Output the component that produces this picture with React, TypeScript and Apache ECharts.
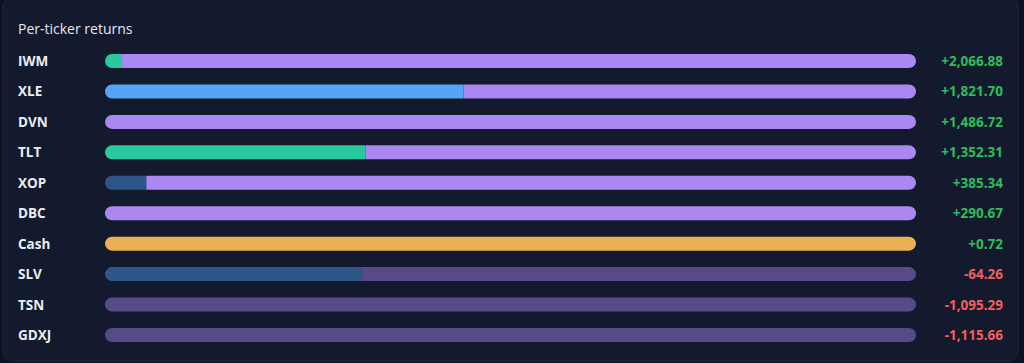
import React, { useEffect, useRef } from "react";
import * as echarts from "echarts";

const tickers = ["IWM", "XLE", "DVN", "TLT", "XOP", "DBC", "Cash", "SLV", "TSN", "GDXJ"];
const returns = [2066.88, 1821.7, 1486.72, 1352.31, 385.34, 290.67, 0.72, -64.26, -1095.29, -1115.66];

// share of each bar (percent) by segment colour group
const tealShare = [2.1, 0, 0, 32.1, 0, 0, 0, 0, 0, 0];
const blueShare = [0, 44.2, 0, 0, 0, 0, 0, 0, 0, 0];
const steelShare = [0, 0, 0, 0, 5.1, 0, 0, 31.6, 0, 0];
const violetShare = [97.9, 55.8, 100, 67.9, 94.9, 100, 0, 0, 0, 0];
const amberShare = [0, 0, 0, 0, 0, 0, 100, 0, 0, 0];
const mutedShare = [0, 0, 0, 0, 0, 0, 0, 68.4, 100, 100];

const segments = [
  { name: "teal", data: tealShare, color: "#27c99d" },
  { name: "blue", data: blueShare, color: "#56a4f5" },
  { name: "steel", data: steelShare, color: "#2f5688" },
  { name: "violet", data: violetShare, color: "#ab87f2" },
  { name: "amber", data: amberShare, color: "#ebb055" },
  { name: "muted", data: mutedShare, color: "#574a87" },
];

function fmt(v: number) {
  const s = Math.abs(v).toLocaleString("en-US", { minimumFractionDigits: 2, maximumFractionDigits: 2 });
  return (v >= 0 ? "+" : "-") + s;
}

export default function App() {
  const ref = useRef<HTMLDivElement>(null);
  useEffect(() => {
    if (!ref.current) return;
    const chart = echarts.init(ref.current, null, { renderer: "svg" });
    const R = 7;
    const series = segments.map((seg, si) => ({
      type: "bar",
      name: seg.name,
      stack: "total",
      barWidth: 14,
      data: seg.data.map((v, row) => {
        let first = true;
        let last = true;
        for (let k = 0; k < si; k++) if (segments[k].data[row] > 0) first = false;
        for (let k = si + 1; k < segments.length; k++) if (segments[k].data[row] > 0) last = false;
        return {
          value: v,
          itemStyle: {
            color: seg.color,
            borderRadius: [first ? R : 0, last ? R : 0, last ? R : 0, first ? R : 0],
          },
        };
      }),
      emphasis: { disabled: true },
    }));
    chart.setOption({
      animation: false,
      backgroundColor: "#0c1221",
      graphic: [
        {
          type: "rect",
          shape: { x: 3, y: -3, width: 1015, height: 364, r: 10 },
          style: { fill: "#131a2d", stroke: "#1f283d", lineWidth: 1 },
          z: -10,
          silent: true,
        },
      ],
      title: {
        text: "Per-ticker returns",
        left: 18,
        top: 21,
        padding: 0,
        textStyle: { color: "#e3e8f0", fontSize: 14, fontWeight: "normal", fontFamily: "Open Sans" },
      },
      grid: { left: 105, right: 108, top: 45.8, bottom: 12.8, containLabel: false },
      xAxis: { type: "value", min: 0, max: 100, show: false },
      yAxis: [
        {
          type: "category",
          data: tickers,
          inverse: true,
          axisLine: { show: false },
          axisTick: { show: false },
          splitLine: { show: false },
          axisLabel: {
            align: "left",
            margin: 87,
            color: "#e8edf5",
            fontSize: 13.5,
            fontWeight: "bold",
            fontFamily: "Open Sans",
          },
        },
        {
          type: "category",
          data: tickers,
          inverse: true,
          position: "right",
          axisLine: { show: false },
          axisTick: { show: false },
          splitLine: { show: false },
          axisLabel: {
            align: "right",
            margin: 87,
            fontSize: 13.5,
            fontWeight: "bold",
            fontFamily: "Open Sans",
            formatter: (_: string, idx: number) => {
              const v = returns[idx];
              return v >= 0 ? `{pos|${fmt(v)}}` : `{neg|${fmt(v)}}`;
            },
            rich: {
              pos: { color: "#2dbe5c", fontSize: 13.5, fontWeight: "bold", fontFamily: "Open Sans" },
              neg: { color: "#f25f5f", fontSize: 13.5, fontWeight: "bold", fontFamily: "Open Sans" },
            },
          },
        },
      ],
      series,
    });
    return () => chart.dispose();
  }, []);
  return (
    <div
      ref={ref}
      style={{ position: "fixed", left: 0, top: 0, width: 1024, height: 363 }}
    />
  );
}
